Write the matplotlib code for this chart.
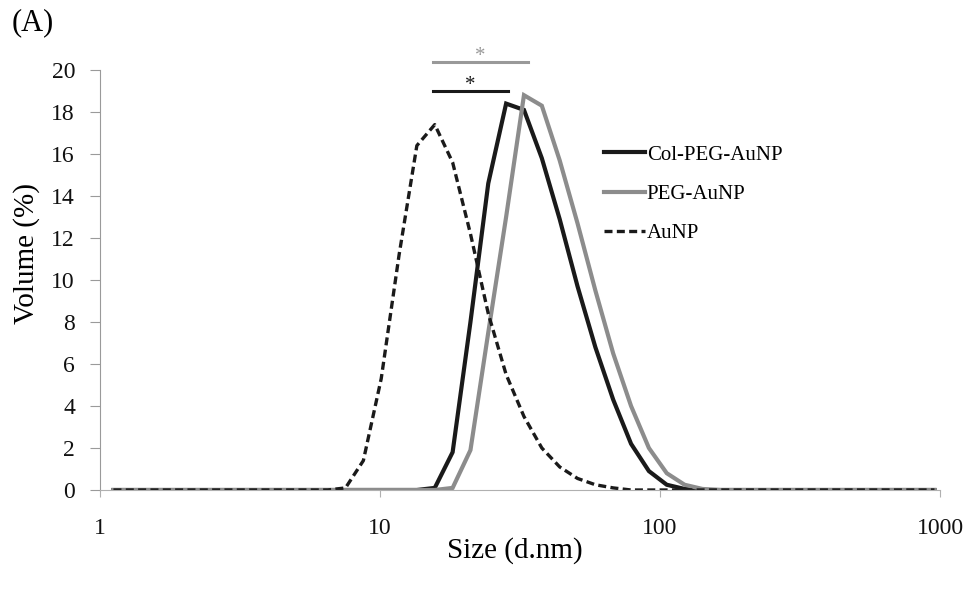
import numpy as np
import matplotlib
matplotlib.use('Agg')
import matplotlib.pyplot as plt

# DLS size bins (nm) and volume distributions (%)
sizes = [1.117, 1.294, 1.499, 1.736, 2.010, 2.328, 2.696, 3.122, 3.615, 4.187,
         4.849, 5.615, 6.503, 7.531, 8.721, 10.10, 11.70, 13.54, 15.69, 18.17,
         21.04, 24.36, 28.21, 32.67, 37.84, 43.82, 50.75, 58.77, 68.06, 78.82,
         91.28, 105.7, 122.4, 141.8, 164.2, 190.1, 220.2, 255.0, 295.3, 342.0,
         396.1, 458.7, 531.2, 615.1, 712.4, 825.0, 955.4]

col_peg = [0, 0, 0, 0, 0, 0, 0, 0, 0, 0,
           0, 0, 0, 0, 0, 0, 0, 0, 0.1, 1.8,
           8.0, 14.6, 18.4, 18.1, 15.8, 12.9, 9.7, 6.8, 4.3, 2.2,
           0.9, 0.25, 0.05, 0, 0, 0, 0, 0, 0, 0,
           0, 0, 0, 0, 0, 0, 0]

peg = [0, 0, 0, 0, 0, 0, 0, 0, 0, 0,
       0, 0, 0, 0, 0, 0, 0, 0, 0, 0.1,
       1.9, 7.5, 13.0, 18.8, 18.3, 15.7, 12.7, 9.5, 6.5, 4.0,
       2.0, 0.8, 0.25, 0.05, 0, 0, 0, 0, 0, 0,
       0, 0, 0, 0, 0, 0, 0]

aunp = [0, 0, 0, 0, 0, 0, 0, 0, 0, 0,
        0, 0, 0, 0.1, 1.4, 5.3, 11.2, 16.4, 17.4, 15.6,
        12.2, 8.4, 5.5, 3.5, 2.0, 1.1, 0.55, 0.25, 0.1, 0,
        0, 0, 0, 0, 0, 0, 0, 0, 0, 0,
        0, 0, 0, 0, 0, 0, 0]

labels = ['Col-PEG-AuNP', 'PEG-AuNP', 'AuNP']

# significance bars: x start, x end, y
sig_gray = (15.4, 33.7, 20.37)
sig_black = (15.4, 28.6, 19.0)

plt.rcParams['font.family'] = ['Liberation Serif', 'DejaVu Serif']

fig = plt.figure(figsize=(9.72, 5.9), dpi=100)
ax = fig.add_axes([100/972, 1-490/590, 840/972, 420/590])

gray = '#8c8c8c'
ax.plot(sizes, col_peg, color='#1a1a1a', lw=3.0, label=labels[0], solid_joinstyle='miter')
ax.plot(sizes, peg, color=gray, lw=3.0, label=labels[1], solid_joinstyle='miter')
ax.plot(sizes, aunp, color='#1a1a1a', lw=2.4, ls=(0, (2.4, 1.3)), label=labels[2])

ax.set_xscale('log')
ax.set_xlim(1, 1000)
ax.set_ylim(0, 20)
ax.set_yticks(np.arange(0, 21, 2))
ax.set_xticks([1, 10, 100, 1000])
ax.set_xticklabels(['1', '10', '100', '1000'])
ax.minorticks_off()

for s in ['top', 'right']:
    ax.spines[s].set_visible(False)
ax.spines['left'].set_color('#9a9a9a')
ax.spines['bottom'].set_color('#b0b0b0')
ax.tick_params(axis='y', direction='out', length=7, color='#9a9a9a', pad=11,
               labelsize=17, labelcolor='#111111')
ax.tick_params(axis='x', direction='out', length=5, color='#b0b0b0', pad=15,
               labelsize=17, labelcolor='#111111')

# significance markers
ax.plot([sig_gray[0], sig_gray[1]], [sig_gray[2]]*2, color='#999999', lw=2.2, clip_on=False)
ax.text(np.sqrt(sig_gray[0]*sig_gray[1]), sig_gray[2]-0.17, '*', color='#999999',
        ha='center', va='bottom', fontsize=15)
ax.plot([sig_black[0], sig_black[1]], [sig_black[2]]*2, color='#1a1a1a', lw=2.2, clip_on=False)
ax.text(np.sqrt(sig_black[0]*sig_black[1]), sig_black[2]-0.17, '*', color='#1a1a1a',
        ha='center', va='bottom', fontsize=15)

ax.legend(loc='upper left', bbox_to_anchor=(604/972, 1-145/590), bbox_transform=fig.transFigure,
          frameon=False, fontsize=15, handlelength=1.95, handletextpad=0.1,
          labelspacing=0.95, borderpad=0, borderaxespad=0)

fig.text(27/972, 1-253/590, 'Volume (%)', rotation=90, ha='center', va='center', fontsize=21)
fig.text(515/972, 1-551/590, 'Size (d.nm)', ha='center', va='center', fontsize=21)
fig.text(12/972, 1-8/590, '(A)', ha='left', va='top', fontsize=22)

fig.savefig('out.png', dpi=100)
